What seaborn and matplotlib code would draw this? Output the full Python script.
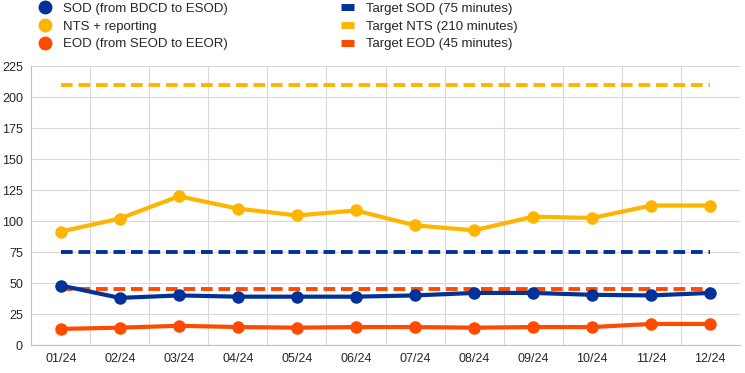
import numpy as np
import pandas as pd
import matplotlib
matplotlib.use("Agg")
import matplotlib.pyplot as plt
from matplotlib.lines import Line2D
import seaborn as sns

# data
months = ['01/24', '02/24', '03/24', '04/24', '05/24', '06/24',
          '07/24', '08/24', '09/24', '10/24', '11/24', '12/24']
sod = [48, 38, 40, 39, 39, 39, 40, 42, 42, 40.5, 40, 42]
nts = [91.5, 102, 120, 110, 104.5, 108.5, 96.5, 92.5, 103.5, 102.5, 112.5, 112.5]
eod = [13, 14, 15.5, 14.5, 14, 14.5, 14.5, 14, 14.5, 14.5, 17, 17]
target_sod = 75
target_nts = 210
target_eod = 45

blue = '#003299'
yellow = '#FFB400'
orange = '#FF4B00'

sns.set_style("white")
plt.rcParams['font.family'] = ['Liberation Sans', 'DejaVu Sans']

idx = np.arange(len(months))
df = pd.DataFrame({'idx': idx, 'sod': sod, 'nts': nts, 'eod': eod,
                   'tsod': [target_sod] * len(months),
                   'tnts': [target_nts] * len(months),
                   'teod': [target_eod] * len(months)})

fig = plt.figure(figsize=(7.45, 3.73), dpi=100)
ax = fig.add_axes([0.042, 0.075, 0.951, 0.748])

# target lines (dashed)
for col, c in [('tnts', yellow), ('tsod', blue), ('teod', orange)]:
    sns.lineplot(data=df, x='idx', y=col, ax=ax, color=c, linewidth=2.8,
                 dashes=False, linestyle=(0, (3, 1.5)), zorder=2)

# actual series
for col, c in [('nts', yellow), ('sod', blue), ('eod', orange)]:
    sns.lineplot(data=df, x='idx', y=col, ax=ax, color=c, linewidth=3,
                 marker='o', markersize=9, markeredgewidth=0, zorder=3)

ax.set_xlim(-0.5, len(months) - 0.5)
ax.set_ylim(0, 225)
ax.set_yticks(np.arange(0, 226, 25))
ax.set_xticks(idx)
ax.set_xticklabels(months)
ax.set_xticks(idx[:-1] + 0.5, minor=True)
ax.grid(True, which='minor', axis='x', color='#d9d9d9', linewidth=0.8)
ax.grid(True, which='major', axis='y', color='#d9d9d9', linewidth=0.8)
ax.set_axisbelow(True)
ax.tick_params(axis='both', which='both', length=0, labelsize=9, pad=6)
ax.set_xlabel('')
ax.set_ylabel('')
for s in ['top', 'right']:
    ax.spines[s].set_visible(False)
for s in ['left', 'bottom']:
    ax.spines[s].set_color('#bfbfbf')
    ax.spines[s].set_linewidth(0.8)

handles = [
    Line2D([], [], color=blue, marker='o', linestyle='none', markersize=9),
    Line2D([], [], color=yellow, marker='o', linestyle='none', markersize=9),
    Line2D([], [], color=orange, marker='o', linestyle='none', markersize=9),
    Line2D([], [], color=blue, linewidth=5, solid_capstyle='butt'),
    Line2D([], [], color=yellow, linewidth=5, solid_capstyle='butt'),
    Line2D([], [], color=orange, linewidth=5, solid_capstyle='butt'),
]
labels = ['SOD (from BDCD to ESOD)', 'NTS + reporting', 'EOD (from SEOD to EEOR)',
          'Target SOD (75 minutes)', 'Target NTS (210 minutes)', 'Target EOD (45 minutes)']
fig.legend(handles, labels, ncol=2, loc='upper left', bbox_to_anchor=(0.035, 1.025),
           frameon=False, fontsize=9.5, handlelength=1.0, handletextpad=0.9,
           columnspacing=8.6, labelspacing=0.42)

fig.savefig('out.png', dpi=100)
